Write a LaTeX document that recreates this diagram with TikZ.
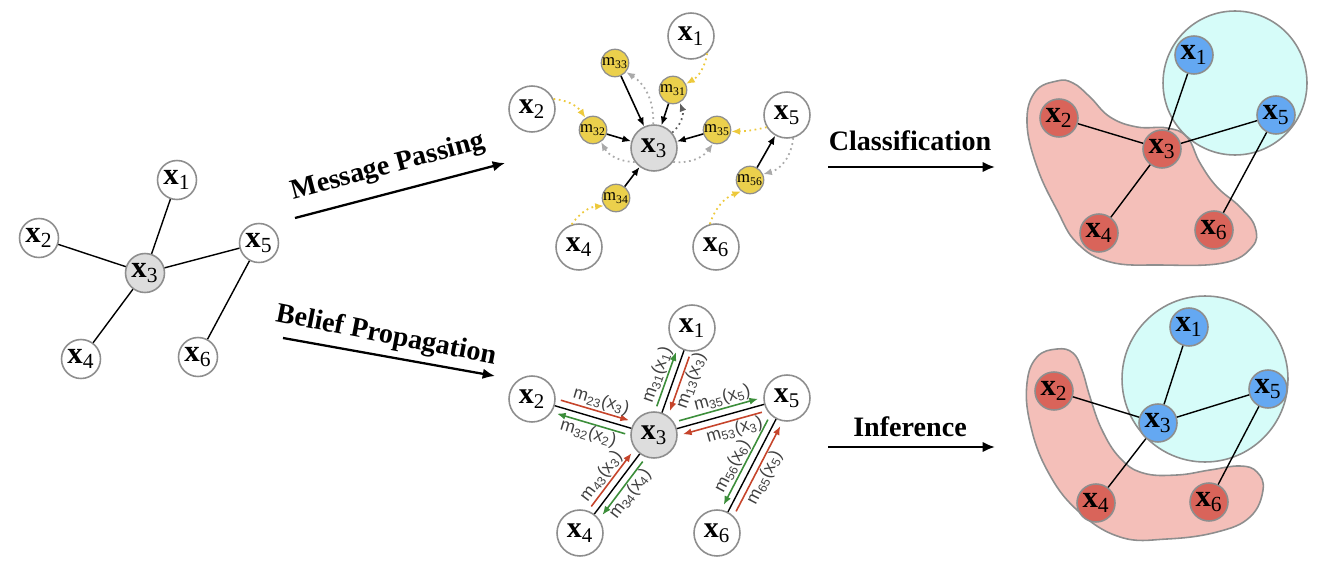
\documentclass[tikz,border=0pt]{standalone}
\usepackage{fontspec}
\setmainfont{Liberation Serif}
\newfontfamily\lblfont{Liberation Sans}
\usetikzlibrary{positioning,calc,arrows.meta}
\definecolor{nodegray}{HTML}{DDDDDD}
\definecolor{rimgray}{HTML}{8E8E8E}
\definecolor{msgyellow}{HTML}{EBD04C}
\definecolor{msgdot}{HTML}{EDC93C}
\definecolor{backdot}{HTML}{AAAAAA}
\definecolor{bpgreen}{HTML}{3C8E3A}
\definecolor{bpred}{HTML}{C6442B}
\definecolor{clsred}{HTML}{D9645A}
\definecolor{clsblue}{HTML}{64A8F2}
\definecolor{blobred}{HTML}{F4BFB9}
\definecolor{blobcyan}{HTML}{D6FCF9}

\newcommand\xv[1]{\textbf{x}\textsubscript{#1}}
\newcommand\mv[1]{m\textsubscript{#1}}
\newcommand\bpm[2]{m\textsubscript{#1}(x\textsubscript{#2})}
% message arrow beside an edge: from, to, colour, side, label place, label
\newcommand\bparrow[6]{%
  \draw[bpline,#3] ($(#1)!0.56cm!(#2)!#4!90:(#2)$) -- ($(#2)!0.56cm!(#1)!#4!-90:(#1)$)
    node[bplabel,midway,sloped,#5] {#6};}

\begin{document}
\begin{tikzpicture}[x=0.02cm,y=-0.02cm,
    vnode/.style={circle, draw=rimgray, line width=0.9pt, fill=white, inner sep=0pt,
      minimum size=0.78cm, font=\fontsize{17.5}{17.5}\selectfont},
    bignode/.style={vnode, minimum size=0.92cm, font=\fontsize{17}{17}\selectfont},
    hub/.style={fill=nodegray},
    msg/.style={circle, draw=rimgray, line width=0.7pt, fill=msgyellow, inner sep=0pt,
      minimum size=0.52cm, font=\fontsize{9.5}{9.5}\selectfont},
    clsr/.style={vnode, minimum size=0.76cm, fill=clsred},
    clsb/.style={vnode, minimum size=0.76cm, fill=clsblue},
    edge/.style={line width=0.8pt},
    flow/.style={-{Latex[length=7pt,width=6pt]}, line width=1.3pt},
    heading/.style={font=\fontsize{16}{16}\selectfont\bfseries},
    pass/.style={-{Latex[length=5pt,width=4pt]}, line width=0.9pt},
    ydot/.style={-{Latex[length=5pt,width=4pt]}, msgdot, dotted, line width=1pt},
    gdot/.style={-{Latex[length=5pt,width=4pt]}, backdot, dotted, line width=1pt},
    bpline/.style={-{Latex[length=5pt,width=4pt]}, line width=0.9pt},
    bplabel/.style={font=\lblfont\fontsize{10}{10}\selectfont, text=black!75, inner sep=0.6pt}
    ]
\useasboundingbox (0,0) rectangle (1322,588);

% input graph
\node[vnode] (g1) at (177,180) {\xv{1}};
\node[vnode] (g2) at (39,238) {\xv{2}};
\node[vnode,hub] (g3) at (145,273) {\xv{3}};
\node[vnode] (g4) at (81,359) {\xv{4}};
\node[vnode] (g5) at (259,243) {\xv{5}};
\node[vnode] (g6) at (198,357) {\xv{6}};
\foreach \t in {1,2,4,5} \draw[edge] (g3) -- (g\t);
\draw[edge] (g5) -- (g6);

% transitions
\coordinate (mpS) at (295,218);
\coordinate (mpE) at (505,163);
\draw[flow] (mpS) -- (mpE);
\node[heading,rotate=15] (mptxt) at (388,167) {Message Passing};
\coordinate (bpS) at (283,338);
\coordinate (bpE) at (495,376);
\draw[flow] (bpS) -- (bpE);
\node[heading,rotate=-11] (bptxt) at (386,336) {Belief Propagation};
\coordinate (clS) at (828,167);
\coordinate (clE) at (995,167);
\draw[flow] (clS) -- (clE);
\node[heading] (cltxt) at (910,141) {Classification};
\coordinate (inS) at (828,447);
\coordinate (inE) at (995,447);
\draw[flow] (inS) -- (inE);
\node[heading] (intxt) at (910,427) {Inference};

% message passing
\node[bignode] (mp1) at (691,36) {\xv{1}};
\node[bignode] (mp2) at (532,109) {\xv{2}};
\node[bignode,hub] (mp3) at (654,148) {\xv{3}};
\node[bignode] (mp4) at (579,247) {\xv{4}};
\node[bignode] (mp5) at (787,115) {\xv{5}};
\node[bignode] (mp6) at (716,247) {\xv{6}};
\node[msg] (m33) at (615,63) {\mv{33}};
\node[msg] (m31) at (673,90) {\mv{31}};
\node[msg] (m32) at (593,130) {\mv{32}};
\node[msg] (m35) at (717,130) {\mv{35}};
\node[msg] (m34) at (616,198) {\mv{34}};
\node[msg] (m56) at (750,180) {\mv{56}};
\draw[ydot] (mp1.-47) to[bend left=25] (m31.25);
\draw[ydot] (mp2.25) to[bend left=25] (m32.122);
\draw[ydot] (mp5.211) to[bend left=6] (m35.-6);
\draw[ydot] (mp4.108) to[bend left=25] (m34.213);
\draw[ydot] (mp6.105) to[bend left=25] (m56.232);
\foreach \m in {m33,m31,m32,m35,m34} \draw[pass] (\m) -- (mp3);
\draw[pass] (m56) -- (mp5);
\draw[gdot] (mp3.92) to[bend right=30] (m33.-39);
\draw[gdot] (mp3.216) to[bend left=30] (m32.-56);
\draw[gdot] (mp3.-36) to[bend right=30] (m35.-107);
\draw[gdot,backdot!55!black] (mp3.40) to[bend right=35] (m31.-62);
\draw[gdot] (mp5.-75) to[bend left=35] (m56.24);

% belief propagation
\node[bignode] (bp1) at (692,328) {\xv{1}};
\node[bignode] (bp2) at (532,399) {\xv{2}};
\node[bignode,hub] (bp3) at (654,435) {\xv{3}};
\node[bignode] (bp4) at (580,533) {\xv{4}};
\node[bignode] (bp5) at (787,398) {\xv{5}};
\node[bignode] (bp6) at (717,533) {\xv{6}};
\foreach \t in {1,2,4,5} \draw[edge] (bp3) -- (bp\t);
\draw[edge] (bp5) -- (bp6);
\bparrow{bp3}{bp1}{bpgreen}{0.14cm}{above,pos=0.52}{\bpm{31}{1}}
\bparrow{bp1}{bp3}{bpred}{0.14cm}{below,pos=0.38}{\bpm{13}{3}}
\bparrow{bp2}{bp3}{bpred}{0.14cm}{above,pos=0.55}{\bpm{23}{3}}
\bparrow{bp3}{bp2}{bpgreen}{0.14cm}{below,pos=0.5}{\bpm{32}{2}}
\bparrow{bp3}{bp5}{bpgreen}{0.14cm}{above,pos=0.58}{\bpm{35}{5}}
\bparrow{bp5}{bp3}{bpred}{0.14cm}{below,pos=0.38}{\bpm{53}{3}}
\bparrow{bp4}{bp3}{bpred}{0.14cm}{above,pos=0.45}{\bpm{43}{3}}
\bparrow{bp3}{bp4}{bpgreen}{0.14cm}{below,pos=0.5}{\bpm{34}{4}}
\bparrow{bp5}{bp6}{bpgreen}{-0.14cm}{above,pos=0.6}{\bpm{56}{6}}
\bparrow{bp6}{bp5}{bpred}{-0.14cm}{below,pos=0.45}{\bpm{65}{5}}

% classification
\filldraw[fill=blobred,draw=rimgray,line width=0.9pt] plot[smooth cycle,tension=0.7] coordinates {
  (1057,81) (1035,92) (1027,123) (1037,167) (1057,210) (1077,243) (1110,262) (1160,265)
  (1223,263) (1252,247) (1255,227) (1240,207) (1217,187) (1200,163) (1187,137) (1167,128)
  (1137,127) (1110,117) (1090,97) (1073,83)};
\filldraw[fill=blobcyan,draw=rimgray,line width=0.9pt] (1235,83) circle[radius=1.44cm];
\node[clsb] (c1) at (1194,55) {\xv{1}};
\node[clsr] (c2) at (1059,118) {\xv{2}};
\node[clsr] (c3) at (1162,149) {\xv{3}};
\node[clsr] (c4) at (1099,233) {\xv{4}};
\node[clsb] (c5) at (1276,115) {\xv{5}};
\node[clsr] (c6) at (1214,230) {\xv{6}};
\foreach \t in {1,2,4,5} \draw[edge] (c3) -- (c\t);
\draw[edge] (c5) -- (c6);

% inference
\filldraw[fill=blobred,draw=rimgray,line width=0.9pt] plot[smooth cycle,tension=0.7] coordinates {
  (1057,349) (1037,357) (1027,383) (1030,423) (1047,470) (1077,510) (1120,537) (1167,539)
  (1217,532) (1250,517) (1263,490) (1257,472) (1240,466) (1210,470) (1177,475) (1143,473)
  (1120,458) (1102,430) (1090,397) (1082,370) (1073,353)};
\filldraw[fill=blobcyan,draw=rimgray,line width=0.9pt] (1205,379) circle[radius=1.66cm];
\node[clsb] (i1) at (1189,327) {\xv{1}};
\node[clsr] (i2) at (1054,391) {\xv{2}};
\node[clsb] (i3) at (1158,423) {\xv{3}};
\node[clsr] (i4) at (1096,503) {\xv{4}};
\node[clsb] (i5) at (1268,389) {\xv{5}};
\node[clsr] (i6) at (1209,502) {\xv{6}};
\foreach \t in {1,2,4,5} \draw[edge] (i3) -- (i\t);
\draw[edge] (i5) -- (i6);
\end{tikzpicture}
\end{document}
